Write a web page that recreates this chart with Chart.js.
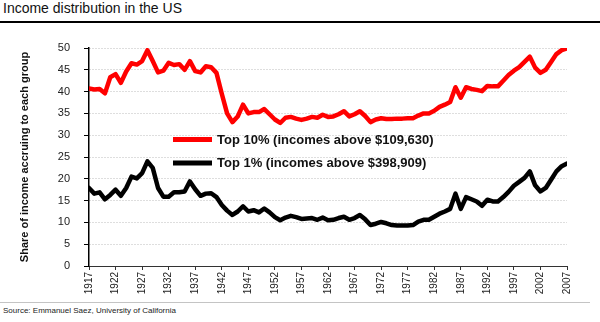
<!DOCTYPE html>
<html>
<head>
<meta charset="utf-8">
<title>Income distribution in the US</title>
<script src="https://cdn.jsdelivr.net/npm/chart.js@4.4.1/dist/chart.umd.min.js"></script>
<style>
    html, body { margin: 0; padding: 0; background: #fff; }
    #wrap { position: relative; width: 600px; height: 322px; overflow: hidden; font-family: "Liberation Sans", Arial, sans-serif; }
    #title { position: absolute; left: 3px; top: 0; font-size: 14px; line-height: 16px; color: #111; white-space: nowrap; }
    #titleRule { position: absolute; left: 0; top: 21px; width: 600px; height: 2px; background: #000; }
    #chartBox { position: absolute; left: 0; top: 24px; width: 600px; height: 278px; }
    #sourceRule { position: absolute; left: 0; top: 302px; width: 590px; height: 1px; background: #c4c4c4; }
    #source { position: absolute; left: 3px; top: 306px; font-size: 8px; line-height: 10px; color: #222; white-space: nowrap; }
</style>
</head>
<body>
<div id="wrap">
    <div id="title">Income distribution in the US</div>
    <div id="titleRule"></div>
    <div id="chartBox"><canvas id="incomeChart" width="600" height="278"></canvas></div>
    <div id="sourceRule"></div>
    <div id="source">Source: Emmanuel Saez, University of California</div>
</div>

<script>
// ====================================
// DATA
// ====================================

const firstYear = 1917;
const lastYear = 2007;

const years = [];
for (let y = firstYear; y <= lastYear; y++) years.push(y);

const tickYears = [1917, 1922, 1927, 1932, 1937, 1942, 1947, 1952, 1957, 1962,
    1967, 1972, 1977, 1982, 1987, 1992, 1997, 2002, 2007];

const shareTicks = [0, 5, 10, 15, 20, 25, 30, 35, 40, 45, 50];

// Share of income (%) held by the top 10%, one value per year
const top10Share = [
    40.7, 40.5, 40.6, 39.6, 43.3, 44.0, 42.0, 44.6, 46.5, 46.2,   // 1917-1926
    47.0, 49.5, 47.0, 44.4, 44.8, 46.6, 46.1, 46.3, 45.0, 47.0,   // 1927-1936
    44.7, 44.4, 45.8, 45.6, 44.3, 39.5, 35.0, 33.0, 34.3, 37.0,   // 1937-1946
    35.0, 35.3, 35.3, 36.0, 34.8, 33.6, 32.8, 34.0, 34.2, 33.8,   // 1947-1956
    33.5, 33.8, 34.2, 34.0, 34.7, 34.2, 34.3, 34.8, 35.5, 34.3,   // 1957-1966
    34.8, 35.5, 34.4, 33.0, 33.6, 33.9, 33.7, 33.7, 33.8, 33.8,   // 1967-1976
    33.9, 33.9, 34.5, 35.0, 35.0, 35.6, 36.5, 37.0, 37.6, 41.0,   // 1977-1986
    38.6, 41.0, 40.6, 40.4, 40.1, 41.3, 41.2, 41.2, 42.5, 43.8,   // 1987-1996
    44.8, 45.6, 46.8, 48.0, 45.5, 44.3, 45.0, 46.8, 48.6, 49.5,   // 1997-2006
    49.9                                                          // 2007
];

// Share of income (%) held by the top 1%
const top1Share = [
    17.9, 16.6, 16.9, 15.3, 16.3, 17.5, 16.1, 17.9, 20.5, 20.1,   // 1917-1926
    21.3, 24.0, 22.5, 17.9, 15.9, 15.9, 16.9, 16.9, 17.1, 19.4,   // 1927-1936
    17.6, 16.1, 16.6, 16.7, 15.8, 14.0, 12.7, 11.7, 12.5, 13.7,   // 1937-1946
    12.5, 12.8, 12.3, 13.2, 12.3, 11.2, 10.5, 11.1, 11.5, 11.2,   // 1947-1956
    10.8, 10.9, 11.0, 10.6, 11.1, 10.5, 10.6, 11.0, 11.3, 10.6,   // 1957-1966
    11.0, 11.7, 10.7, 9.4, 9.7, 10.1, 9.8, 9.4, 9.3, 9.3,         // 1967-1976
    9.3, 9.4, 10.2, 10.6, 10.6, 11.3, 12.0, 12.5, 13.1, 16.6,     // 1977-1986
    13.1, 15.8, 15.3, 14.8, 13.8, 15.2, 14.8, 14.8, 15.8, 17.0,   // 1987-1996
    18.4, 19.3, 20.2, 21.7, 18.5, 17.1, 17.9, 19.8, 21.7, 22.9,   // 1997-2006
    23.5                                                          // 2007
];

const seriesLabels = [
    'Top 10% (incomes above $109,630)',
    'Top 1% (incomes above $398,909)'
];

// ====================================
// CHART
// ====================================

const FONT = '"Liberation Sans", Arial, sans-serif';
Chart.defaults.font.family = FONT;

// legend drawn inside the plot, line sample + bold label
const inlineLegend = {
    id: 'inlineLegend',
    afterDatasetsDraw(chart) {
        const ctx = chart.ctx;
        const rows = [115.5, 139];
        chart.data.datasets.forEach((ds, i) => {
            const y = rows[i];
            ctx.save();
            ctx.strokeStyle = ds.borderColor;
            ctx.lineWidth = 5;
            ctx.beginPath();
            ctx.moveTo(173, y);
            ctx.lineTo(212, y);
            ctx.stroke();
            ctx.fillStyle = '#111';
            ctx.font = 'bold 13px ' + FONT;
            ctx.textBaseline = 'middle';
            ctx.fillText(ds.label, 217, y + 0.5);
            ctx.restore();
        });
    }
};

const toPoints = (values) => years.map((yr, i) => ({ x: yr, y: values[i] }));

new Chart(document.getElementById('incomeChart'), {
    type: 'line',
    data: {
        datasets: [{
            label: seriesLabels[0],
            data: toPoints(top10Share),
            borderColor: '#ff0000',
            borderWidth: 4.5,
            borderJoinStyle: 'round',
            borderCapStyle: 'round',
            pointRadius: 0,
            tension: 0
        }, {
            label: seriesLabels[1],
            data: toPoints(top1Share),
            borderColor: '#000000',
            borderWidth: 4.5,
            borderJoinStyle: 'round',
            borderCapStyle: 'round',
            pointRadius: 0,
            tension: 0
        }]
    },
    options: {
        responsive: false,
        animation: false,
        layout: { padding: { top: 24, right: 33, bottom: 0, left: 0 } },
        plugins: {
            legend: { display: false },
            tooltip: { enabled: false }
        },
        scales: {
            x: {
                type: 'linear',
                min: firstYear,
                max: lastYear,
                afterBuildTicks: (scale) => { scale.ticks = tickYears.map(v => ({ value: v })); },
                afterFit: (scale) => { scale.height = 36; },
                grid: {
                    drawOnChartArea: false,
                    drawTicks: true,
                    tickLength: 4,
                    tickColor: '#333',
                    tickWidth: 1
                },
                border: { display: true, color: '#333', width: 1 },
                ticks: {
                    autoSkip: false,
                    minRotation: 90,
                    maxRotation: 90,
                    padding: 2,
                    color: '#222',
                    font: { size: 10 },
                    callback: (value) => String(value)
                }
            },
            y: {
                min: 0,
                max: 50,
                afterBuildTicks: (scale) => { scale.ticks = shareTicks.map(v => ({ value: v })); },
                afterFit: (scale) => { scale.width = 89; },
                grid: {
                    color: '#bdbdbd',
                    lineWidth: 1,
                    tickColor: '#000',
                    tickLength: 5,
                    tickWidth: 1
                },
                border: { display: true, color: '#000', width: 1.5, dash: [1, 2] },
                ticks: {
                    padding: 14,
                    color: '#222',
                    font: { size: 11 }
                },
                title: {
                    display: true,
                    text: 'Share of income accruing to each group',
                    color: '#111',
                    font: { size: 11, weight: 'bold' },
                    padding: { top: 18, bottom: 0 }
                }
            }
        }
    },
    plugins: [inlineLegend]
});
</script>
</body>
</html>
